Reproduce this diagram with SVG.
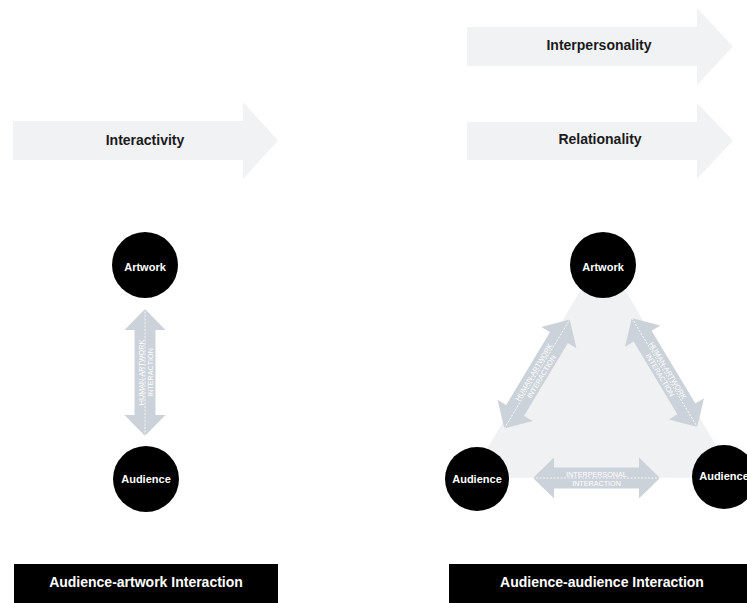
<svg xmlns="http://www.w3.org/2000/svg" xmlns:xlink="http://www.w3.org/1999/xlink" width="747" height="603" viewBox="0 0 747 603">
<style>
.band{fill:#f1f2f4}
.bandtxt{font-family:"Liberation Sans",Arial,sans-serif;font-weight:bold;font-size:14px;fill:#1a1a1a;text-anchor:middle}
.node{fill:#000}
.ntxt{font-family:"Liberation Sans",Arial,sans-serif;font-weight:bold;font-size:11px;fill:#fff;text-anchor:middle}
.dbl{fill:#ccd2da}
.dash{stroke:#fff;stroke-width:0.8;stroke-dasharray:2 1.5;fill:none}
.atxt{font-family:"Liberation Sans",Arial,sans-serif;font-size:7.2px;fill:#fff;text-anchor:middle}
.box{fill:#000}
.boxtxt{font-family:"Liberation Sans",Arial,sans-serif;font-weight:bold;font-size:14px;fill:#fff;text-anchor:middle}
.tri{fill:#f0f1f3}
</style>
<defs>
<path id="dblarrow" class="dbl" d="M-63.5 0 L-42.5 -20.5 L-42.5 -10.5 L42.5 -10.5 L42.5 -20.5 L63.5 0 L42.5 20.5 L42.5 10.5 L-42.5 10.5 L-42.5 20.5 Z"/>
</defs>

<g id="band-interactivity">
<path class="band" d="M13 121 H243 V102 L278 140.5 L243 179 V160 H13 Z"/>
<text class="bandtxt" x="145" y="145">Interactivity</text>
</g>
<g id="band-interpersonality">
<path class="band" d="M467 27 H697 V8 L733 46.5 L697 85 V66 H467 Z"/>
<text class="bandtxt" x="599" y="50">Interpersonality</text>
</g>
<g id="band-relationality">
<path class="band" d="M467 122 H697 V103 L733 140.5 L697 179 V160 H467 Z"/>
<text class="bandtxt" x="600" y="144">Relationality</text>
</g>

<g id="triangle-area">
<path class="tri" d="M603 252 L470 478 L735 478 Z"/>
</g>

<g id="connectors">
<g transform="translate(145,372.5) rotate(-90)">
<use xlink:href="#dblarrow"/>
<line class="dash" x1="-63.5" y1="0" x2="63.5" y2="0"/>
<text class="atxt" x="0" y="-1.2">HUMAN-ARTWORK</text>
<text class="atxt" x="0" y="7.6">INTERACTION</text>
</g>
<g transform="translate(537,374) rotate(-59)">
<use xlink:href="#dblarrow"/>
<line class="dash" x1="-63.5" y1="0" x2="63.5" y2="0"/>
<text class="atxt" x="0" y="-1.2">HUMAN-ARTWORK</text>
<text class="atxt" x="0" y="7.6">INTERACTION</text>
</g>
<g transform="translate(664.5,372.5) rotate(59)">
<use xlink:href="#dblarrow"/>
<line class="dash" x1="-63.5" y1="0" x2="63.5" y2="0"/>
<text class="atxt" x="0" y="-1.2">HUMAN-ARTWORK</text>
<text class="atxt" x="0" y="7.6">INTERACTION</text>
</g>
<g transform="translate(596.5,478)">
<use xlink:href="#dblarrow"/>
<line class="dash" x1="-120" y1="0" x2="128" y2="0"/>
<text class="atxt" x="0" y="-1.2">INTERPERSONAL</text>
<text class="atxt" x="0" y="7.6">INTERACTION</text>
</g>
</g>

<g id="artwork-left">
<circle class="node" cx="145" cy="265" r="33"/>
<text class="ntxt" x="145" y="270.5">Artwork</text>
</g>
<g id="audience-left">
<circle class="node" cx="146" cy="479" r="33"/>
<text class="ntxt" x="146" y="482.5">Audience</text>
</g>
<g id="artwork-right">
<circle class="node" cx="603" cy="265" r="33"/>
<text class="ntxt" x="603" y="270.5">Artwork</text>
</g>
<g id="audience-right-1">
<circle class="node" cx="477" cy="479" r="32"/>
<text class="ntxt" x="477" y="482.5">Audience</text>
</g>
<g id="audience-right-2">
<circle class="node" cx="724" cy="477" r="32"/>
<text class="ntxt" x="724" y="480">Audience</text>
</g>

<g id="label-left">
<rect class="box" x="14" y="564" width="264" height="39"/>
<text class="boxtxt" x="146" y="587">Audience-artwork Interaction</text>
</g>
<g id="label-right">
<rect class="box" x="449" y="564" width="298" height="39"/>
<text class="boxtxt" x="602" y="587">Audience-audience Interaction</text>
</g>
</svg>
